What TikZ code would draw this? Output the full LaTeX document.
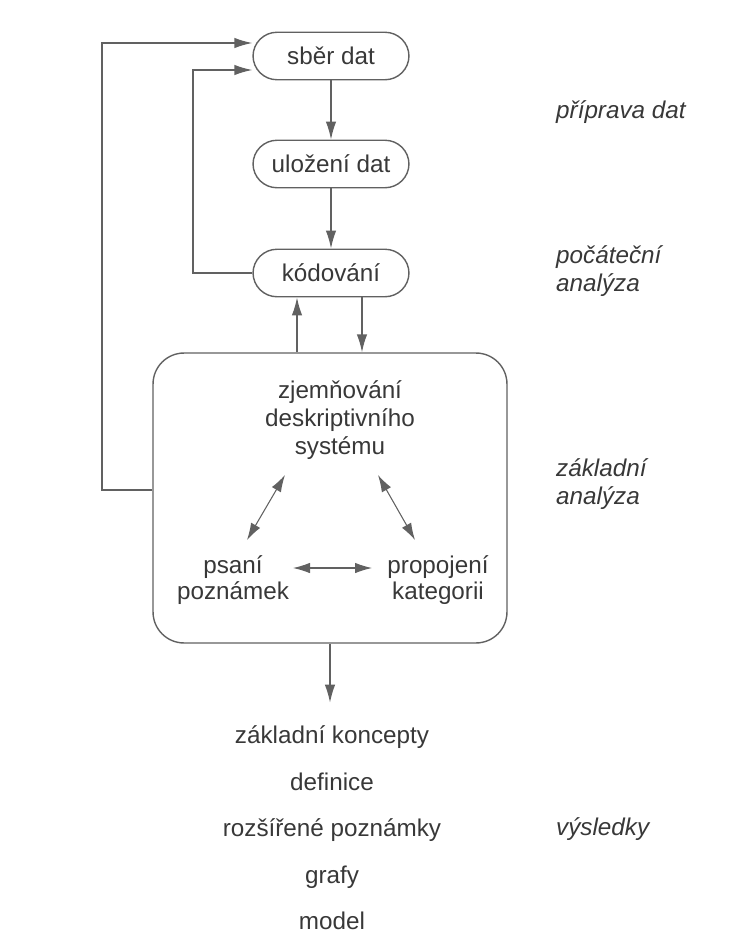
\documentclass[tikz,border=0pt]{standalone}
\usepackage{fontspec}
\setmainfont{Liberation Sans}
\usetikzlibrary{arrows.meta}

\begin{document}
\begin{tikzpicture}[x=0.02cm,y=-0.02cm,
  font=\fontsize{13.8}{16}\selectfont,
  every node/.style={text=black!78},
  krok/.style={draw=black!62,line width=0.8pt,rounded corners=0.48cm,
    minimum width=3.12cm,minimum height=0.95cm},
  faze/.style={anchor=west,align=left,font=\fontsize{13.8}{15.5}\selectfont\itshape},
  vysl/.style={inner sep=1pt,text height=0.8em,text depth=0.25em},
  arr/.style={draw=black!62,line width=0.8pt,-{Latex[length=3.6mm,width=2.1mm]}},
  dbl/.style={draw=black!62,line width=0.6pt,{Latex[length=3.4mm,width=2.1mm]}-{Latex[length=3.4mm,width=2.1mm]}}]
\useasboundingbox (0,0) rectangle (755,933);
% kroky pripravy dat
\node[krok] (sber) at (331,56) {sběr dat};
\node[krok] (ulozeni) at (331,164) {uložení dat};
\node[krok] (kod) at (331,273) {kódování};
% zakladni analyza
\node[draw=black!62,line width=0.8pt,rounded corners=0.62cm,
  minimum width=7.08cm,minimum height=5.8cm] (box) at (330,498) {};
\node[align=center,font=\fontsize{13.8}{16}\selectfont] (zjem) at (340,420)
  {zjemňování\\deskriptivního\\systému};
\node[align=center,font=\fontsize{13.8}{15}\selectfont] (psani) at (233,580) {psaní\\poznámek};
\node[align=center,font=\fontsize{13.8}{15}\selectfont] (propoj) at (438,580) {propojení\\kategorii};
% faze
\node[faze] (priprava) at (550,112) {příprava dat};
\node[faze] (pocatek) at (550,271) {počáteční\\analýza};
\node[faze] (zakladni) at (550,484) {základní\\analýza};
\node[faze] (vysledky) at (550,829) {výsledky};
% vysledky
\foreach \n/\t [count=\k] in {koncepty/základní koncepty,definice/definice,
  rozsir/rozšířené poznámky,grafy/grafy,model/model}
{       \node[vysl] (\n) at (332,{739+46.4*(\k-1)}) {\t};
}
% spojky
\coordinate (vnitrni) at (193,70);
\coordinate (vnejsi) at (102,43);
\draw[arr] (sber) -- (ulozeni);
\draw[arr] (ulozeni) -- (kod);
\draw[arr] ([xshift=0.62cm]kod.south) -- ([xshift=0.62cm]kod.south |- box.north);
\draw[arr] ([xshift=-0.68cm]kod.south |- box.north) -- ([xshift=-0.68cm]kod.south);
\draw[arr] (kod.west) -| (vnitrni) -- (vnitrni -| sber.west);
\draw[arr] ([yshift=0.16cm]box.west) -| (vnejsi) -- (vnejsi -| sber.west);
\draw[arr,shorten >=0.5cm] (box.south) -- (box.south |- koncepty.north);
\draw[dbl] ([shift={(-55,55)}]zjem.center) -- ([shift={(14,-40)}]psani.center);
\draw[dbl] ([shift={(38,55)}]zjem.center) -- ([shift={(-23,-40)}]propoj.center);
\draw[dbl] ([shift={(60,-12)}]psani.center) -- ([shift={(-66,-12)}]propoj.center);
\end{tikzpicture}
\end{document}
